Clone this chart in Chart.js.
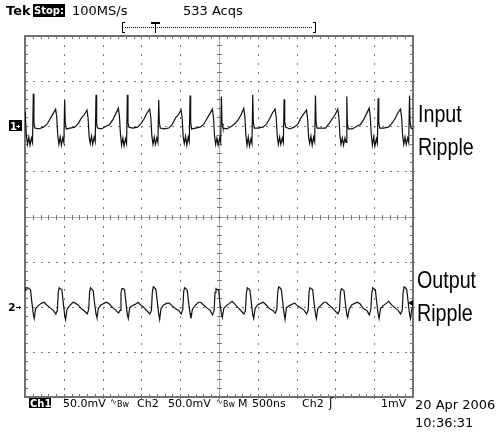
<!DOCTYPE html>
<html>
<head>
<meta charset="utf-8">
<script src="https://cdn.jsdelivr.net/npm/chart.js@4/dist/chart.umd.min.js"></script>
<style>
  html, body { margin: 0; padding: 0; background: #fff; }
  #scope { display: block; }
</style>
</head>
<body>
<canvas id="scope" width="496" height="432"></canvas>
<script>
// Screen: 10 div x 500 ns, 8 div x 50 mV
const TIME_DIVS = [0, 500, 1000, 1500, 2000, 2500, 3000, 3500, 4000, 4500, 5000];
const VOLT_DIVS = [-200, -150, -100, -50, 0, 50, 100, 150, 200];
const CH1_OFFSET = 100;   // mV, trace 1 ground marker
const CH2_OFFSET = -100;  // mV, trace 2 ground marker

// Channel 1 - input ripple (time in ns, ripple in mV)
const ch1Time = [
  0, 5, 19, 33, 49, 65, 83, 97,
  107, 115, 127, 177, 237, 282, 322, 362, 395, 409, 423, 437, 453, 469, 487, 501,
  511, 519, 531, 581, 641, 686, 726, 766, 799, 813, 827, 841, 857, 873, 891, 905,
  915, 923, 935, 985, 1045, 1090, 1130, 1170, 1203, 1217, 1231, 1245, 1261, 1277, 1295, 1309,
  1319, 1327, 1339, 1389, 1449, 1494, 1534, 1574, 1607, 1621, 1635, 1649, 1665, 1681, 1699, 1713,
  1723, 1731, 1743, 1793, 1853, 1898, 1938, 1978, 2011, 2025, 2039, 2053, 2069, 2085, 2103, 2117,
  2127, 2135, 2147, 2197, 2257, 2302, 2342, 2382, 2415, 2429, 2443, 2457, 2473, 2489, 2507, 2521,
  2531, 2539, 2551, 2601, 2661, 2706, 2746, 2786, 2819, 2833, 2847, 2861, 2877, 2893, 2911, 2925,
  2935, 2943, 2955, 3005, 3065, 3110, 3150, 3190, 3223, 3237, 3251, 3265, 3281, 3297, 3315, 3329,
  3339, 3347, 3359, 3409, 3469, 3514, 3554, 3594, 3627, 3641, 3655, 3669, 3685, 3701, 3719, 3733,
  3743, 3751, 3763, 3813, 3873, 3918, 3958, 3998, 4031, 4045, 4059, 4073, 4089, 4105, 4123, 4137,
  4147, 4155, 4167, 4217, 4277, 4322, 4362, 4402, 4435, 4449, 4463, 4477, 4493, 4509, 4527, 4541,
  4551, 4559, 4571, 4621, 4681, 4726, 4766, 4806, 4839, 4853, 4867, 4881, 4897, 4913, 4931, 4945,
  4955, 4963, 4975, 5000
];
const ch1Mv = [
  16, 10, -11, -20, -12, -21, -13, -18,
  36, 4, -2, -3, -1, 2, 8, 14, 19, 10, -11, -20, -12, -21, -13, -18,
  29, 5, -3, -2, -1, 3, 9, 13, 18, 9, -12, -19, -11, -20, -12, -17,
  35, 3, -2, -3, 0, 2, 7, 14, 20, 11, -10, -21, -13, -22, -14, -19,
  35, 4, -1, -2, -1, 3, 8, 15, 19, 10, -11, -20, -12, -20, -13, -18,
  29, 5, -2, -3, -2, 2, 9, 13, 18, 9, -12, -19, -11, -21, -12, -17,
  34, 4, -3, -2, -1, 2, 8, 14, 19, 10, -11, -20, -13, -21, -13, -18,
  33, 3, -2, -3, 0, 3, 7, 13, 20, 11, -10, -21, -12, -22, -14, -19,
  35, 4, -2, -2, -1, 2, 8, 15, 19, 10, -11, -20, -12, -20, -13, -18,
  30, 5, -1, -3, -1, 2, 9, 14, 18, 9, -12, -19, -11, -21, -12, -17,
  34, 4, -2, -2, -2, 3, 8, 13, 19, 10, -11, -20, -13, -21, -13, -18,
  33, 3, -3, -3, 0, 2, 7, 14, 20, 11, -10, -21, -12, -22, -14, -19,
  31, 4, -2, -2, -1, 3, 8, 15, 19, 10, -11, -20, -12, -20, -13, -18,
  34, 4, -2, -3
];

// Channel 2 - output ripple (time in ns, ripple in mV)
const ch2Time = [
  0, 10, 37, 53, 71, 87,
  107, 119, 137, 169, 215, 244, 280, 321, 365, 397, 417, 429, 441, 457, 475, 491,
  511, 523, 541, 573, 619, 648, 684, 725, 769, 801, 821, 833, 845, 861, 879, 895,
  915, 927, 945, 977, 1023, 1052, 1088, 1129, 1173, 1205, 1225, 1237, 1249, 1265, 1283, 1299,
  1319, 1331, 1349, 1381, 1427, 1456, 1492, 1533, 1577, 1609, 1629, 1641, 1653, 1669, 1687, 1703,
  1723, 1735, 1753, 1785, 1831, 1860, 1896, 1937, 1981, 2013, 2033, 2045, 2057, 2073, 2091, 2107,
  2127, 2139, 2157, 2189, 2235, 2264, 2300, 2341, 2385, 2417, 2437, 2449, 2461, 2477, 2495, 2511,
  2531, 2543, 2561, 2593, 2639, 2668, 2704, 2745, 2789, 2821, 2841, 2853, 2865, 2881, 2899, 2915,
  2935, 2947, 2965, 2997, 3043, 3072, 3108, 3149, 3193, 3225, 3245, 3257, 3269, 3285, 3303, 3319,
  3339, 3351, 3369, 3401, 3447, 3476, 3512, 3553, 3597, 3629, 3649, 3661, 3673, 3689, 3707, 3723,
  3743, 3755, 3773, 3805, 3851, 3880, 3916, 3957, 4001, 4033, 4053, 4065, 4077, 4093, 4111, 4127,
  4147, 4159, 4177, 4209, 4255, 4284, 4320, 4361, 4405, 4437, 4457, 4469, 4481, 4497, 4515, 4531,
  4551, 4563, 4581, 4613, 4659, 4688, 4724, 4765, 4809, 4841, 4861, 4873, 4885, 4901, 4919, 4935,
  4955, 4967, 4985, 5000
];
const ch2Mv = [
  18, 21, 21, 20, 19, 6,
  -8, -13, -2, 1, 4, 5, 2, -1, -4, -8, -4, 16, 21, 20, 19, 6,
  -9, -14, -3, 1, 5, 4, 2, -2, -5, -8, -3, 17, 21, 19, 18, 5,
  -8, -12, -2, 2, 4, 5, 3, -1, -4, -7, -4, 15, 20, 20, 19, 6,
  -9, -13, -1, 1, 3, 5, 2, -1, -5, -8, -4, 16, 22, 21, 19, 7,
  -8, -14, -2, 2, 4, 4, 1, -2, -4, -8, -3, 17, 21, 20, 18, 6,
  -7, -13, -3, 1, 5, 5, 2, -1, -4, -9, -4, 16, 20, 19, 19, 5,
  -8, -12, -2, 1, 4, 6, 3, -1, -5, -8, -4, 15, 21, 20, 18, 6,
  -9, -13, -2, 2, 4, 5, 2, -2, -4, -7, -3, 16, 22, 21, 19, 7,
  -8, -14, -1, 1, 3, 4, 1, -1, -4, -8, -4, 17, 21, 20, 19, 6,
  -8, -13, -2, 1, 5, 5, 2, -1, -5, -8, -4, 16, 20, 19, 18, 5,
  -9, -12, -3, 2, 4, 5, 3, -2, -4, -9, -3, 15, 21, 20, 19, 6,
  -8, -13, -2, 1, 4, 6, 2, -1, -4, -8, -4, 16, 22, 21, 19, 7,
  -8, -13, -2, 1
];

const FONT = '"DejaVu Sans", sans-serif';
const LABEL_FONT = '"Liberation Sans", Arial, sans-serif';

function toPoints(times, values, offset) {
    return times.map((t, i) => ({ x: t, y: values[i] + offset }));
}

// narrow hand label: Liberation Sans squeezed horizontally
function narrowText(ctx, text, x, y) {
    ctx.save();
    ctx.translate(x, y);
    ctx.scale(0.82, 1);
    ctx.fillText(text, 0, 0);
    ctx.restore();
}

// Tek graticule: dotted division lines, ticked centre cross and frame
const graticule = {
    id: 'graticule',
    beforeDatasetsDraw(chart) {
        const { ctx, chartArea: a, scales: { x, y } } = chart;
        ctx.save();
        ctx.fillStyle = '#7a7a7a';
        // dotted division lines, one dot per minor division
        TIME_DIVS.slice(1, -1).forEach(t => {
            const px = Math.round(x.getPixelForValue(t));
            for (let v = -200; v <= 200; v += 10) {
                ctx.fillRect(px, Math.round(y.getPixelForValue(v)), 1, 2);
            }
        });
        VOLT_DIVS.slice(1, -1).forEach(v => {
            const py = Math.round(y.getPixelForValue(v));
            for (let t = 0; t <= 5000; t += 100) {
                ctx.fillRect(Math.round(x.getPixelForValue(t)), py, 2, 1);
            }
        });
        // centre cross with minor ticks
        const cx = Math.round(x.getPixelForValue(2500));
        const cy = Math.round(y.getPixelForValue(0));
        ctx.fillStyle = '#b0b0b0';
        ctx.fillRect(a.left, cy, a.right - a.left, 1);
        ctx.fillRect(cx, a.top, 1, a.bottom - a.top);
        ctx.fillStyle = '#777';
        for (let t = 0; t <= 5000; t += 100) {
            const px = Math.round(x.getPixelForValue(t));
            ctx.fillRect(px, cy - 2, 1, 5);
            ctx.fillRect(px, a.top, 1, 3);
            ctx.fillRect(px, a.bottom - 3, 1, 3);
        }
        for (let v = -200; v <= 200; v += 10) {
            const py = Math.round(y.getPixelForValue(v));
            ctx.fillRect(cx - 2, py, 5, 1);
            ctx.fillRect(a.left, py, 3, 1);
            ctx.fillRect(a.right - 3, py, 3, 1);
        }
        // frame
        ctx.strokeStyle = '#707070';
        ctx.lineWidth = 2;
        ctx.strokeRect(a.left, a.top, a.right - a.left, a.bottom - a.top);
        ctx.restore();
    }
};

// Scope readouts, channel markers and the hand-written labels
const readouts = {
    id: 'readouts',
    afterDraw(chart) {
        const { ctx, scales: { x, y } } = chart;
        ctx.save();
        ctx.textBaseline = 'alphabetic';
        ctx.fillStyle = '#000';

        // top status line
        ctx.font = 'bold 13px ' + FONT;
        ctx.fillText('Tek', 6, 15);
        ctx.fillRect(33, 4, 32, 13);
        ctx.fillStyle = '#fff';
        ctx.font = 'bold 10px ' + FONT;
        ctx.fillText('Stop:', 34, 14);
        ctx.fillStyle = '#000';
        ctx.font = '13px ' + FONT;
        ctx.fillText('100MS/s', 72, 15);
        ctx.fillText('533 Acqs', 183, 15);

        // record / trigger position bracket
        ctx.fillRect(122, 22, 1, 11);
        ctx.fillRect(122, 22, 3, 1);
        ctx.fillRect(122, 32, 3, 1);
        ctx.fillRect(315, 22, 1, 11);
        ctx.fillRect(313, 22, 3, 1);
        ctx.fillRect(313, 32, 3, 1);
        for (let px = 125; px < 313; px += 2) ctx.fillRect(px, 27, 1, 1);
        ctx.fillRect(151, 22, 9, 2);
        ctx.fillRect(155, 22, 1, 11);

        // channel ground markers
        const g1 = Math.round(y.getPixelForValue(CH1_OFFSET));
        ctx.fillRect(9, g1 - 6, 13, 11);
        ctx.fillStyle = '#fff';
        ctx.font = 'bold 10px ' + FONT;
        ctx.fillText('1', 10, g1 + 4);
        ctx.fillRect(16, g1, 4, 1);
        ctx.fillRect(18, g1 - 1, 1, 3);
        ctx.fillStyle = '#000';
        const g2 = Math.round(y.getPixelForValue(CH2_OFFSET));
        ctx.font = 'bold 11px ' + FONT;
        ctx.fillText('2', 8, g2 + 4);
        ctx.fillRect(16, g2, 5, 1);
        ctx.fillRect(19, g2 - 1, 1, 3);
        ctx.fillRect(20, g2, 1, 1);

        // trigger level marker on the right edge
        const tl = Math.round(y.getPixelForValue(CH2_OFFSET + 4));
        ctx.beginPath();
        ctx.moveTo(x.right - 5, tl);
        ctx.lineTo(x.right, tl - 3);
        ctx.lineTo(x.right, tl + 3);
        ctx.closePath();
        ctx.fill();

        // labels
        ctx.font = '24px ' + LABEL_FONT;
        narrowText(ctx, 'Input', 418, 122);
        narrowText(ctx, 'Ripple', 418, 155);
        narrowText(ctx, 'Output', 417, 288);
        narrowText(ctx, 'Ripple', 417, 321);

        // bottom readout line
        ctx.fillRect(29, 398, 22, 10);
        ctx.fillStyle = '#fff';
        ctx.font = 'bold 10px ' + FONT;
        ctx.fillText('Ch1', 30, 407);
        ctx.fillStyle = '#000';
        ctx.font = '11px ' + FONT;
        ctx.fillText('50.0mV', 63, 407);
        ctx.fillText('Ch2', 137, 407);
        ctx.fillText('50.0mV', 168, 407);
        ctx.fillText('M', 238, 407);
        ctx.fillText('500ns', 252, 407);
        ctx.fillText('Ch2', 302, 407);
        ctx.fillText('1mV', 381, 407);
        ctx.font = '8px ' + FONT;
        ctx.fillText('\u223F', 110, 404);
        ctx.fillText('Bw', 117, 407);
        ctx.fillText('\u223F', 216, 404);
        ctx.fillText('Bw', 223, 407);
        ctx.font = '12px ' + FONT;
        ctx.fillText('\u0283', 329, 407);
        ctx.font = '13px ' + FONT;
        ctx.fillText('20 Apr 2006', 415, 409);
        ctx.fillText('10:36:31', 415, 427);
        ctx.restore();
    }
};

new Chart(document.getElementById('scope').getContext('2d'), {
    type: 'line',
    data: {
        datasets: [
            {
                label: 'Ch1 input ripple',
                data: toPoints(ch1Time, ch1Mv, CH1_OFFSET),
                borderColor: '#111',
                borderWidth: 1.2,
                pointRadius: 0,
                tension: 0
            },
            {
                label: 'Ch2 output ripple',
                data: toPoints(ch2Time, ch2Mv, CH2_OFFSET),
                borderColor: '#111',
                borderWidth: 1.2,
                pointRadius: 0,
                tension: 0
            }
        ]
    },
    options: {
        responsive: false,
        devicePixelRatio: 1,
        animation: false,
        layout: { padding: { left: 25, top: 36, right: 83, bottom: 35 } },
        plugins: { legend: { display: false }, tooltip: { enabled: false } },
        scales: {
            x: { type: 'linear', min: 0, max: 5000, display: false },
            y: { type: 'linear', min: -200, max: 200, display: false }
        }
    },
    plugins: [graticule, readouts]
});
</script>
</body>
</html>
